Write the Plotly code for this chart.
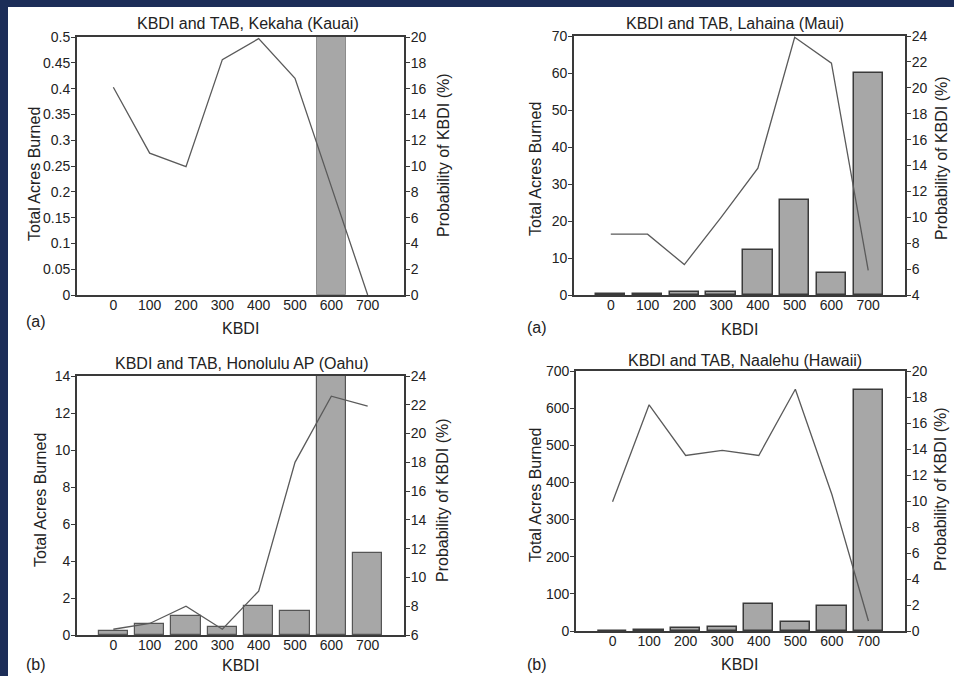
import plotly.graph_objects as go

KBDI = [0, 100, 200, 300, 400, 500, 600, 700]

kekaha_tab = [None, None, None, None, None, None, 0.6, None]
kekaha_prob = [16.1, 11.0, 9.95, 18.25, 19.87, 16.8, 8.4, 0.0]

lahaina_tab = [0.3, 0.4, 0.7, 0.9, 12.1, 25.6, 5.9, 60.1]
lahaina_prob = [8.7, 8.7, 6.35, 10.0, 13.8, 23.9, 21.9, 5.9]

honolulu_tab = [0.2, 0.6, 1.05, 0.43, 1.55, 1.3, 15.0, 4.41]
honolulu_prob = [6.4, 6.8, 8.0, 6.4, 9.05, 18.0, 22.6, 21.9]

naalehu_tab = [0.5, 3, 7, 11, 74, 25, 68, 649]
naalehu_prob = [9.95, 17.4, 13.5, 13.9, 13.5, 18.6, 10.5, 0.77]

titles = ["KBDI and TAB, Kekaha (Kauai)", "KBDI and TAB, Lahaina (Maui)",
          "KBDI and TAB, Honolulu AP (Oahu)", "KBDI and TAB, Naalehu (Hawaii)"]
panel_tags = ["(a)", "(a)", "(b)", "(b)"]

W, H = 954, 676
FONT = "Liberation Sans, Arial, sans-serif"
TXT = "#222222"
AX = "#3a3a3a"
NAVY = "#1c2d58"

# pixel boxes: (left, right, top, bottom)
boxes = [(77, 404, 37, 295), (574, 905, 36, 295), (77, 404, 376, 635), (576, 905, 371, 631)]
left_ranges = [(0, 0.5, 0.05), (0, 70, 10), (0, 14, 2), (0, 700, 100)]
right_ranges = [(0, 20, 2), (4, 24, 2), (6, 24, 2), (0, 20, 2)]
tabs = [kekaha_tab, lahaina_tab, honolulu_tab, naalehu_tab]
probs = [kekaha_prob, lahaina_prob, honolulu_prob, naalehu_prob]
bar_edges = [("#8c8c8c", 1), (AX, 1.5), ("#555555", 1.2), (AX, 1.5)]

fig = go.Figure()
layout = {}
annotations = []

def px(x):
    return x / W

def py(y):
    return 1 - y / H

for i in range(4):
    l, r, t, b = boxes[i]
    xn = f"x{i+1}" if i else "x"
    ya = f"y{2*i+1}" if i else "y"
    yb = f"y{2*i+2}"
    fig.add_trace(go.Bar(x=KBDI, y=tabs[i], width=80, xaxis=xn, yaxis=ya,
                         marker=dict(color="#a7a7a7",
                                     line=dict(color=bar_edges[i][0], width=bar_edges[i][1])),
                         showlegend=False, hoverinfo="skip"))
    fig.add_trace(go.Scatter(x=KBDI, y=probs[i], mode="lines", xaxis=xn, yaxis=yb,
                             line=dict(color="#5a5a5a", width=1.3), showlegend=False,
                             hoverinfo="skip"))
    xkey = "xaxis" if i == 0 else f"xaxis{i+1}"
    yakey = "yaxis" if i == 0 else f"yaxis{2*i+1}"
    ybkey = f"yaxis{2*i+2}"
    layout[xkey] = dict(domain=[px(l), px(r)], anchor=ya, range=[-100, 800],
                        tickmode="array", tickvals=KBDI, ticks="", showgrid=False,
                        zeroline=False, showline=True, linecolor=AX, linewidth=1.5,
                        mirror=True, automargin=False, ticklabelstandoff=-4,
                        tickfont=dict(size=14, color=TXT, family=FONT))
    lo, hi, dt = left_ranges[i]
    layout[yakey] = dict(domain=[py(b), py(t)], anchor=xn, range=[lo, hi], dtick=dt,
                         tick0=lo, ticks="outside", ticklen=4, tickcolor=AX,
                         showgrid=False, zeroline=False, showline=True, linecolor=AX,
                         linewidth=1.8, automargin=False, ticklabelstandoff=-2,
                         tickfont=dict(size=14, color=TXT, family=FONT))
    lo, hi, dt = right_ranges[i]
    layout[ybkey] = dict(overlaying=ya, anchor=xn, side="right", range=[lo, hi],
                         dtick=dt, tick0=lo, ticks="outside", ticklen=4, tickcolor=AX,
                         showgrid=False, zeroline=False, showline=True, linecolor=AX,
                         linewidth=1.8, automargin=False, ticklabelstandoff=-2,
                         tickfont=dict(size=14, color=TXT, family=FONT))

def ann(text, x, y, angle=0, size=16):
    annotations.append(dict(text=text, x=px(x), y=py(y), xref="paper", yref="paper",
                            showarrow=False, textangle=angle, xanchor="center",
                            yanchor="middle", font=dict(size=size, color=TXT, family=FONT)))

title_pos = [(248, 23), (735, 23), (242, 363), (745, 360)]
xt_pos = [(240, 328), (739, 329), (240, 665), (739, 664)]
tag_pos = [(36, 321), (537, 327), (36, 664), (537, 664)]
lt_pos = [(34, 174), (535, 169), (40, 500), (535, 495)]
rt_pos = [(443, 155), (942, 158), (442, 500), (940, 489)]

for i in range(4):
    ann(titles[i], *title_pos[i])
    ann("KBDI", *xt_pos[i])
    ann(panel_tags[i], *tag_pos[i])
    ann("Total Acres Burned", *lt_pos[i], angle=-90)
    ann("Probability of KBDI (%)", *rt_pos[i], angle=-90)

fig.update_layout(
    template="none",
    width=W, height=H, margin=dict(l=0, r=0, t=0, b=0, pad=0, autoexpand=False),
    paper_bgcolor=NAVY, plot_bgcolor="white", bargap=0,
    annotations=annotations,
    shapes=[dict(type="rect", xref="paper", yref="paper", x0=8 / W, x1=1,
                 y0=0, y1=1 - 7 / H, fillcolor="white", line=dict(width=0), layer="below")],
    **layout,
)

fig.write_html(
    "out.html",
    config={"displayModeBar": False},
    post_script="document.body.style.margin='0';document.body.style.overflow='hidden';",
)
